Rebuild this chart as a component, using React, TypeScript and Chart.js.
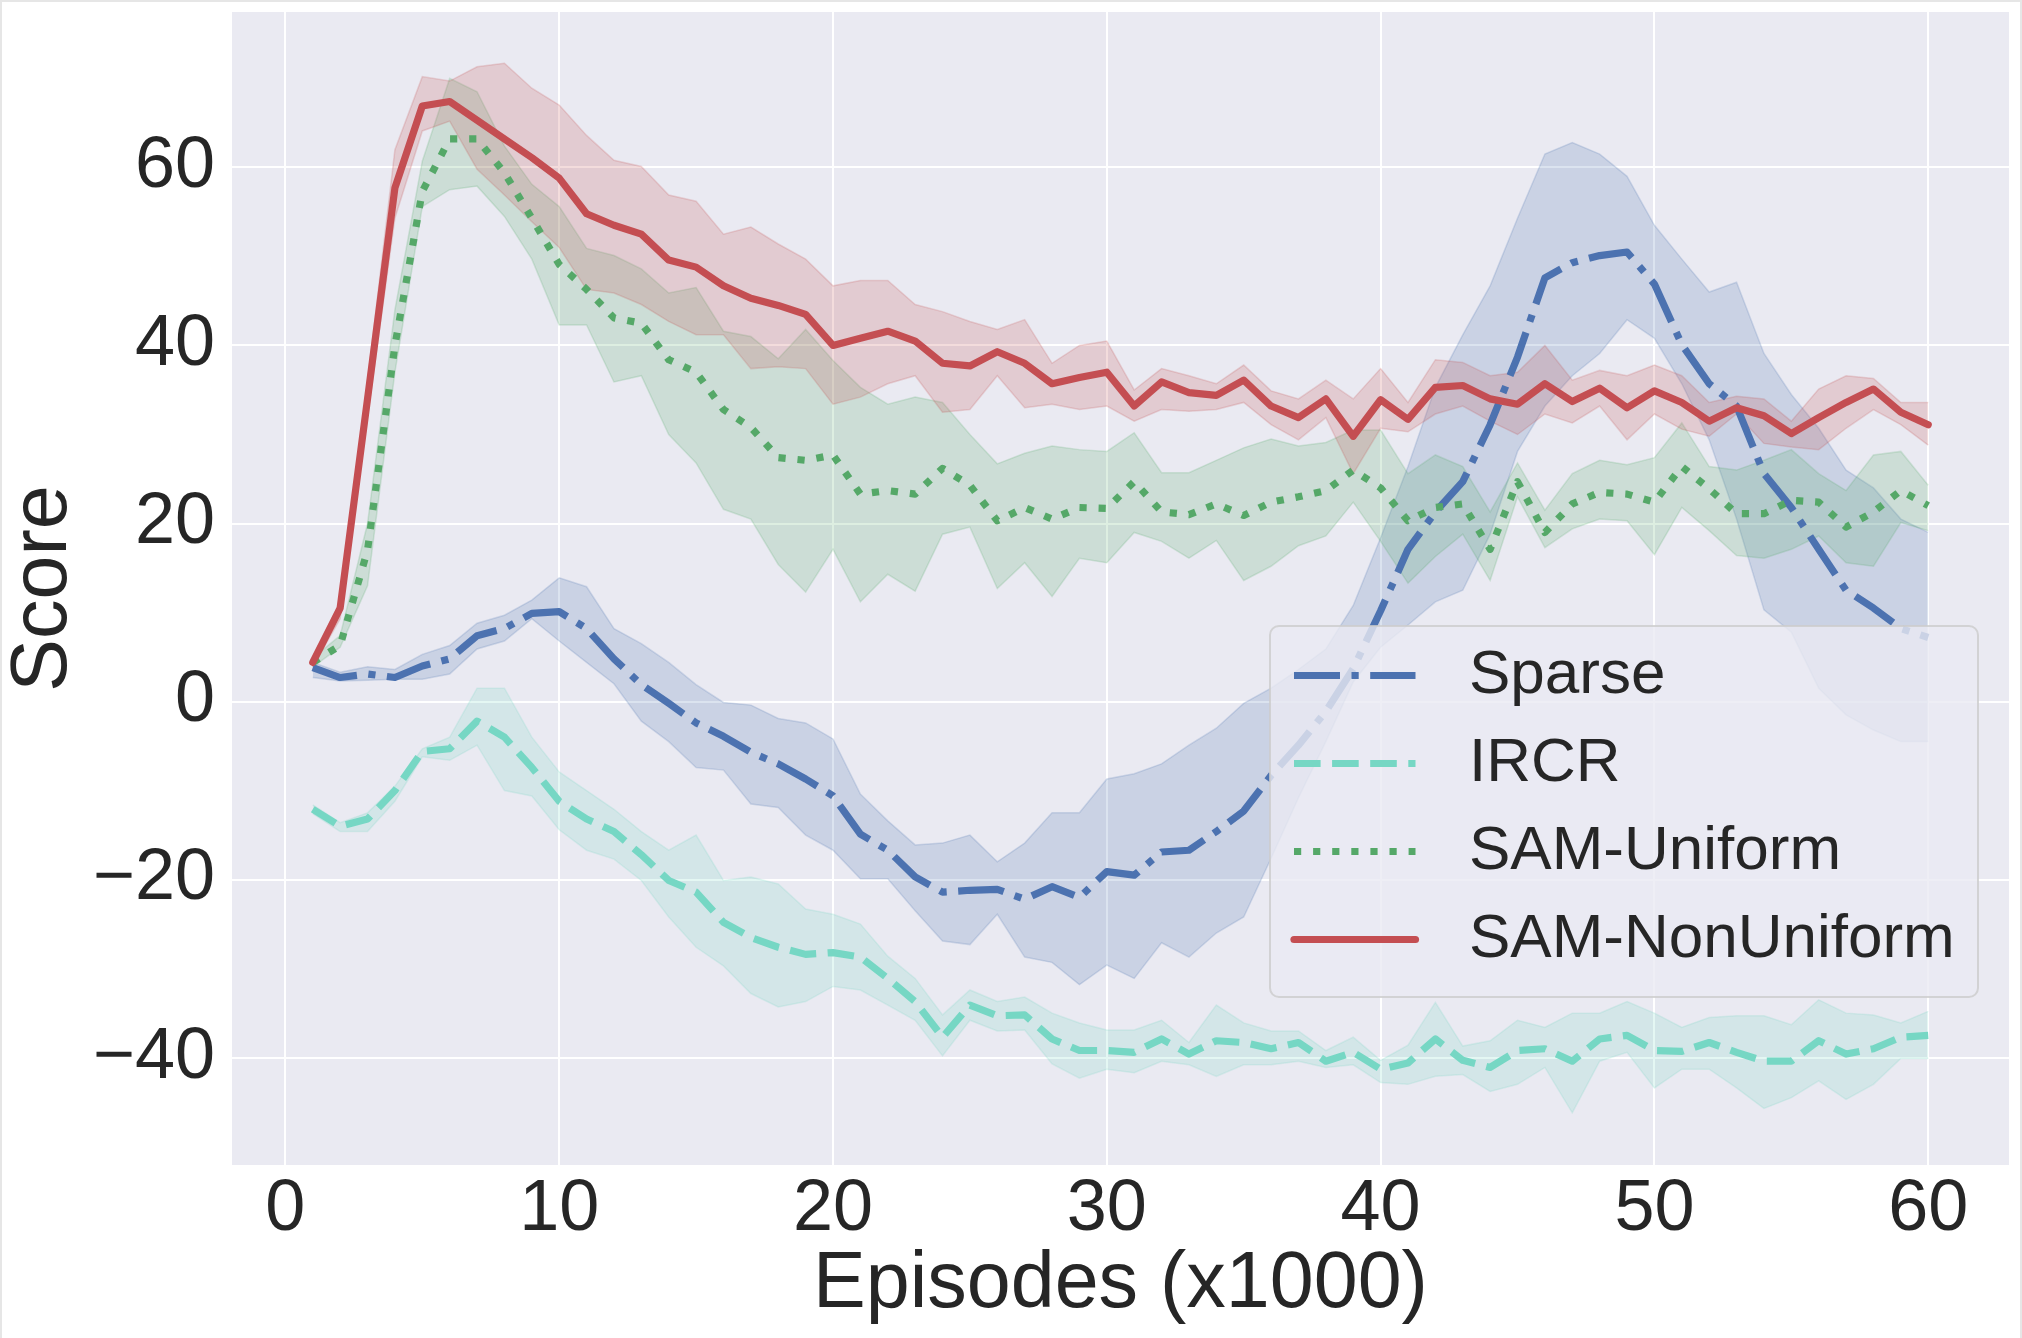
import { useEffect, useRef } from 'react'
import { Chart, registerables } from 'chart.js'

Chart.register(...registerables)

// x axis: episodes (x1000)
const episodes = [
  1, 2, 3, 4, 5, 6, 7, 8, 9, 10, 11, 12, 13, 14, 15, 16, 17, 18, 19, 20,
  21, 22, 23, 24, 25, 26, 27, 28, 29, 30, 31, 32, 33, 34, 35, 36, 37, 38, 39, 40,
  41, 42, 43, 44, 45, 46, 47, 48, 49, 50, 51, 52, 53, 54, 55, 56, 57, 58, 59, 60,
]
const xTicks = [0, 10, 20, 30, 40, 50, 60]
const yTicks = [-40, -20, 0, 20, 40, 60]

// Sparse
const sparseMean = [
  3.8, 2.7, 3.1, 2.7, 4.0, 4.8, 7.4, 8.2, 9.9, 10.1, 8.2, 4.8, 1.9, -0.2, -2.4, -3.9, -5.7, -7.0, -8.7, -10.6,
  -14.9, -16.7, -19.7, -21.4, -21.2, -21.1, -22.2, -20.8, -22.0, -19.1, -19.5, -16.9, -16.7, -14.6, -12.3, -8.3, -4.9, -1.1, 3.7, 10.2,
  17.1, 21.3, 24.7, 31.1, 38.7, 47.6, 49.3, 50.1, 50.5, 46.9, 40.1, 35.7, 33.2, 25.6, 21.8, 17.1, 12.5, 10.5, 8.2, 7.2,
]
const sparseUpper = [
  4.4, 3.3, 3.9, 3.6, 5.3, 6.3, 8.8, 9.7, 11.4, 13.9, 12.9, 8.2, 6.5, 4.4, 1.9, -0.1, -0.4, -1.9, -2.4, -4.2,
  -10.4, -13.4, -16.1, -15.9, -15.0, -18.0, -15.9, -12.5, -12.5, -8.7, -8.1, -7.0, -4.9, -3.0, -0.2, 1.5, 3.6, 5.9, 10.8, 18.4,
  26.4, 35.3, 41.2, 46.7, 54.3, 61.5, 62.8, 61.5, 59.0, 53.5, 49.7, 46.0, 47.1, 39.1, 34.5, 30.7, 26.0, 24.0, 20.5, 19.0,
]
const sparseLower = [
  2.7, 2.3, 2.4, 2.5, 2.5, 3.1, 5.9, 6.8, 9.3, 6.8, 4.4, 2.0, -2.2, -4.5, -7.4, -7.7, -11.5, -11.9, -15.0, -16.7,
  -19.9, -19.9, -23.5, -26.9, -27.3, -23.9, -28.7, -29.3, -31.8, -29.6, -31.1, -27.1, -28.7, -26.0, -24.2, -17.6, -10.8, -4.5, 2.2, 6.1,
  8.6, 11.2, 12.5, 18.8, 28.1, 33.2, 36.6, 39.1, 42.9, 40.8, 35.7, 29.4, 20.5, 10.3, 7.8, 1.5, -1.5, -3.2, -4.5, -4.5,
]

// IRCR
const ircrMean = [
  -12.1, -14.0, -13.2, -10.0, -5.6, -5.3, -2.2, -4.0, -7.4, -11.2, -13.2, -14.6, -17.2, -20.1, -21.4, -24.8, -26.5, -27.6, -28.4, -28.2,
  -28.7, -31.1, -33.7, -37.7, -34.1, -35.3, -35.2, -37.9, -39.2, -39.2, -39.4, -37.9, -39.6, -38.1, -38.3, -39.0, -38.3, -40.4, -39.4, -41.3,
  -40.6, -37.9, -40.3, -41.1, -39.2, -39.0, -40.4, -37.9, -37.5, -39.2, -39.3, -38.3, -39.4, -40.4, -40.4, -38.1, -39.6, -39.0, -37.7, -37.5,
]
const ircrUpper = [
  -11.6, -13.6, -12.5, -9.5, -5.3, -4.0, 1.5, 1.5, -4.0, -7.9, -10.0, -12.1, -14.6, -16.7, -15.0, -20.1, -19.7, -20.5, -23.3, -23.9,
  -25.0, -28.6, -31.1, -35.2, -32.4, -33.7, -33.2, -35.0, -36.1, -36.9, -36.9, -35.8, -38.3, -34.1, -36.1, -37.0, -37.0, -39.2, -37.7, -40.3,
  -38.6, -33.8, -38.7, -38.1, -35.8, -36.6, -35.0, -35.0, -33.7, -35.0, -36.6, -35.5, -35.3, -35.3, -36.3, -33.5, -35.0, -35.2, -36.1, -34.8,
]
const ircrLower = [
  -12.6, -14.6, -14.6, -11.2, -6.2, -6.6, -4.9, -10.0, -10.6, -14.4, -16.7, -17.7, -20.1, -24.2, -27.6, -29.7, -32.8, -34.3, -33.7, -32.0,
  -32.4, -34.1, -35.8, -39.8, -35.8, -37.0, -36.9, -40.7, -42.3, -41.3, -41.7, -40.4, -40.8, -42.1, -40.8, -40.8, -40.4, -41.1, -40.8, -42.8,
  -43.0, -42.1, -41.9, -43.8, -43.0, -41.1, -46.2, -40.4, -39.4, -43.4, -41.3, -41.3, -43.4, -45.7, -44.5, -42.6, -44.7, -43.0, -40.1, -40.1,
]

// SAM-Uniform
const uniformMean = [
  4.4, 6.3, 17.0, 40.0, 57.3, 63.2, 63.2, 59.4, 54.3, 49.1, 46.3, 43.1, 42.5, 38.4, 37.0, 32.8, 30.8, 27.4, 27.1, 27.7,
  23.3, 23.7, 23.3, 26.2, 24.3, 20.3, 21.8, 20.5, 21.8, 21.7, 24.7, 21.3, 21.0, 22.2, 20.9, 22.4, 23.0, 23.7, 26.0, 24.0,
  20.3, 21.8, 22.2, 17.1, 24.7, 19.0, 22.2, 23.5, 23.3, 22.4, 26.4, 23.9, 21.1, 21.1, 22.6, 22.4, 19.6, 21.3, 23.7, 22.0,
]
const uniformUpper = [
  4.9, 7.4, 20.0, 44.0, 60.7, 70.0, 68.5, 62.4, 58.1, 55.6, 50.9, 50.1, 48.6, 45.9, 46.5, 41.6, 41.0, 38.5, 41.8, 38.3,
  35.3, 33.4, 34.2, 33.6, 30.0, 26.7, 27.9, 28.7, 28.3, 28.1, 30.2, 25.7, 25.7, 27.1, 28.5, 29.5, 28.7, 29.1, 30.5, 30.5,
  25.6, 27.7, 26.4, 21.3, 26.8, 21.5, 25.6, 27.1, 26.6, 27.4, 31.3, 26.4, 26.0, 27.1, 28.3, 25.6, 23.7, 27.7, 28.1, 24.3,
]
const uniformLower = [
  3.9, 6.1, 13.0, 37.0, 55.6, 57.5, 57.9, 54.5, 49.7, 42.3, 42.3, 35.9, 36.6, 30.0, 26.8, 21.6, 20.5, 15.4, 12.3, 17.1,
  11.2, 14.3, 12.4, 18.8, 19.6, 12.7, 15.6, 11.8, 16.1, 15.6, 19.0, 18.0, 16.1, 18.1, 13.6, 15.2, 17.5, 18.6, 22.4, 18.0,
  13.3, 16.3, 18.8, 13.6, 23.0, 17.3, 19.4, 20.5, 20.3, 16.5, 21.8, 19.2, 16.4, 16.1, 17.1, 18.6, 15.6, 15.2, 20.1, 19.2,
]

// SAM-NonUniform
const nonUniformMean = [
  4.4, 10.5, 34.0, 57.7, 66.9, 67.4, 65.3, 63.2, 61.1, 58.8, 54.8, 53.5, 52.5, 49.6, 48.8, 46.7, 45.3, 44.5, 43.5, 40.0,
  40.8, 41.6, 40.5, 38.0, 37.7, 39.3, 38.0, 35.7, 36.4, 37.0, 33.2, 35.9, 34.7, 34.4, 36.1, 33.2, 31.9, 34.0, 29.8, 33.9,
  31.7, 35.3, 35.5, 34.0, 33.4, 35.7, 33.7, 35.2, 33.0, 34.9, 33.6, 31.5, 33.0, 32.1, 30.1, 31.9, 33.6, 35.1, 32.5, 31.1,
]
const nonUniformUpper = [
  4.9, 11.2, 36.0, 62.0, 70.2, 69.7, 71.3, 71.7, 68.9, 67.0, 63.6, 60.8, 60.1, 56.9, 56.2, 52.5, 53.3, 51.4, 49.7, 46.7,
  47.3, 47.3, 44.6, 43.8, 42.7, 41.8, 42.9, 38.0, 40.0, 40.5, 35.0, 37.4, 36.6, 35.7, 37.8, 34.9, 34.0, 36.1, 34.0, 37.4,
  33.6, 38.4, 38.1, 36.6, 37.0, 40.0, 36.1, 37.2, 36.6, 37.8, 36.6, 33.6, 34.3, 34.0, 31.5, 35.1, 36.6, 36.3, 33.6, 33.6,
]
const nonUniformLower = [
  3.9, 9.3, 32.0, 54.3, 64.1, 65.2, 59.8, 56.9, 53.9, 51.0, 46.3, 45.9, 44.6, 42.7, 41.2, 41.2, 37.4, 37.6, 37.4, 33.4,
  34.2, 35.7, 36.6, 32.5, 32.8, 36.6, 33.0, 33.4, 32.8, 33.2, 31.5, 32.8, 32.6, 32.8, 33.6, 31.1, 29.4, 31.9, 25.6, 30.7,
  30.3, 32.3, 33.2, 31.5, 30.0, 32.3, 31.3, 33.2, 29.4, 32.3, 30.6, 29.8, 32.3, 29.0, 28.6, 28.3, 30.7, 32.8, 31.1, 28.8,
]

const seriesNames = ['Sparse', 'IRCR', 'SAM-Uniform', 'SAM-NonUniform']
const seriesColors = ['#4C72B0', '#76D7C4', '#55A868', '#C44E52']
const seriesBands = ['rgba(76,114,176,0.2)', 'rgba(118,215,196,0.2)', 'rgba(85,168,104,0.2)', 'rgba(196,78,82,0.2)']
const LINE_W = 7.2
const seriesDash = [[46, 11.5, 7.2, 11.5], [26.6, 11.5], [7.2, 11.9], []]
const seriesCap = ['butt', 'butt', 'butt', 'round']

const FONT = '"Liberation Sans", Arial, Helvetica, sans-serif'
const TEXT = '#262626'

const toPoints = (values: number[]) => episodes.map((x, i) => ({ x, y: values[i] }))

// white page with a faint frame, grey plot face
const backgroundPlugin = {
  id: 'darkgridBackground',
  beforeDraw(chart: any) {
    const { ctx, chartArea: a, width, height } = chart
    ctx.save()
    ctx.fillStyle = '#ffffff'
    ctx.fillRect(0, 0, width, height)
    ctx.strokeStyle = '#e6e6e6'
    ctx.lineWidth = 2
    ctx.beginPath()
    ctx.moveTo(1, height)
    ctx.lineTo(1, 1)
    ctx.lineTo(width - 1, 1)
    ctx.lineTo(width - 1, height)
    ctx.stroke()
    ctx.fillStyle = '#EAEAF2'
    ctx.fillRect(a.left, a.top, a.right - a.left, a.bottom - a.top)
    ctx.restore()
  },
}

// matplotlib-like framed legend in the lower right
const legendPlugin = {
  id: 'framedLegend',
  afterDraw(chart: any) {
    const { ctx, chartArea: a } = chart
    const boxLeft = a.right - 739
    const boxTop = a.top + 614
    ctx.save()
    ctx.beginPath()
    ctx.roundRect(boxLeft, boxTop, 708, 371, 9)
    ctx.fillStyle = 'rgba(234,234,242,0.8)'
    ctx.fill()
    ctx.strokeStyle = 'rgba(204,204,204,0.8)'
    ctx.lineWidth = 2
    ctx.stroke()
    ctx.font = `62px ${FONT}`
    ctx.textBaseline = 'middle'
    ctx.textAlign = 'left'
    seriesNames.forEach((name, i) => {
      const y = boxTop + 49.5 + i * 88
      ctx.beginPath()
      ctx.setLineDash(seriesDash[i])
      ctx.lineCap = seriesCap[i]
      ctx.strokeStyle = seriesColors[i]
      ctx.lineWidth = LINE_W
      ctx.moveTo(boxLeft + 24, y)
      ctx.lineTo(boxLeft + 145.5, y)
      ctx.stroke()
      ctx.setLineDash([])
      ctx.fillStyle = TEXT
      ctx.fillText(name, boxLeft + 199, y)
    })
    ctx.restore()
  },
}

export default function App() {
  const chartRef = useRef<HTMLCanvasElement>(null)
  const chartInstance = useRef<Chart | null>(null)

  useEffect(() => {
    document.body.style.margin = '0'
    if (!chartRef.current) return
    if (chartInstance.current) chartInstance.current.destroy()

    const means = [sparseMean, ircrMean, uniformMean, nonUniformMean]
    const uppers = [sparseUpper, ircrUpper, uniformUpper, nonUniformUpper]
    const lowers = [sparseLower, ircrLower, uniformLower, nonUniformLower]

    // bands first (all under the lines), lines after; higher order draws first
    const bandSets: any[] = []
    uppers.forEach((upper, i) => {
      bandSets.push({
        label: seriesNames[i] + ' upper',
        data: toPoints(upper),
        borderColor: seriesBands[i],
        backgroundColor: seriesBands[i],
        borderWidth: 1.5,
        pointRadius: 0,
        fill: '+1',
        order: 20 - i * 2,
      })
      bandSets.push({
        label: seriesNames[i] + ' lower',
        data: toPoints(lowers[i]),
        borderColor: seriesBands[i],
        backgroundColor: seriesBands[i],
        borderWidth: 1.5,
        pointRadius: 0,
        fill: false,
        order: 19 - i * 2,
      })
    })
    const lineSets = means.map((mean, i) => ({
      label: seriesNames[i],
      data: toPoints(mean),
      borderColor: seriesColors[i],
      backgroundColor: seriesColors[i],
      borderWidth: LINE_W,
      borderDash: seriesDash[i],
      borderCapStyle: seriesCap[i],
      borderJoinStyle: 'round',
      pointRadius: 0,
      fill: false,
      tension: 0,
      order: 4 - i,
    }))

    chartInstance.current = new Chart(chartRef.current, {
      type: 'line',
      data: { datasets: [...bandSets, ...lineSets] },
      plugins: [backgroundPlugin, legendPlugin],
      options: {
        responsive: false,
        animation: false,
        layout: { padding: { left: 0, top: 12, right: 13, bottom: 0 } },
        plugins: {
          legend: { display: false },
          tooltip: { enabled: false },
        },
        scales: {
          x: {
            type: 'linear',
            min: -1.95,
            max: 62.95,
            afterBuildTicks: (scale: any) => {
              scale.ticks = xTicks.map(value => ({ value }))
            },
            afterFit: (scale: any) => {
              scale.height = 173
              scale.paddingLeft = 0
              scale.paddingRight = 0
              scale.paddingTop = 0
              scale.paddingBottom = 0
            },
            grid: { color: '#ffffff', lineWidth: 2, drawTicks: false, tickLength: 0 },
            border: { display: false },
            ticks: {
              color: TEXT,
              font: { family: FONT, size: 72, lineHeight: 1.2 },
              padding: 2,
              maxRotation: 0,
              callback: (v: any) => String(v),
            },
            title: {
              display: true,
              text: 'Episodes (x1000)',
              color: TEXT,
              font: { family: FONT, size: 79, lineHeight: 1.2 },
              padding: { top: 0, bottom: 5 },
            },
          },
          y: {
            type: 'linear',
            min: -52.06,
            max: 77.46,
            afterBuildTicks: (scale: any) => {
              scale.ticks = yTicks.map(value => ({ value }))
            },
            afterFit: (scale: any) => {
              scale.width = 232
              scale.paddingLeft = 0
              scale.paddingRight = 0
              scale.paddingTop = 0
              scale.paddingBottom = 0
            },
            grid: { color: '#ffffff', lineWidth: 2, drawTicks: false, tickLength: 0 },
            border: { display: false },
            ticks: {
              color: TEXT,
              font: { family: FONT, size: 72, lineHeight: 1.2 },
              padding: 17,
              callback: (v: any) => String(v).replace('-', '\u2212'),
            },
            title: {
              display: true,
              text: 'Score',
              color: TEXT,
              font: { family: FONT, size: 79, lineHeight: 1.13 },
              padding: 0,
            },
          },
        },
      },
    } as any)

    return () => {
      if (chartInstance.current) {
        chartInstance.current.destroy()
        chartInstance.current = null
      }
    }
  }, [])

  return (
    <div style={{ width: 2022, height: 1338 }}>
      <canvas ref={chartRef} width={2022} height={1338} style={{ display: 'block' }} />
    </div>
  )
}
